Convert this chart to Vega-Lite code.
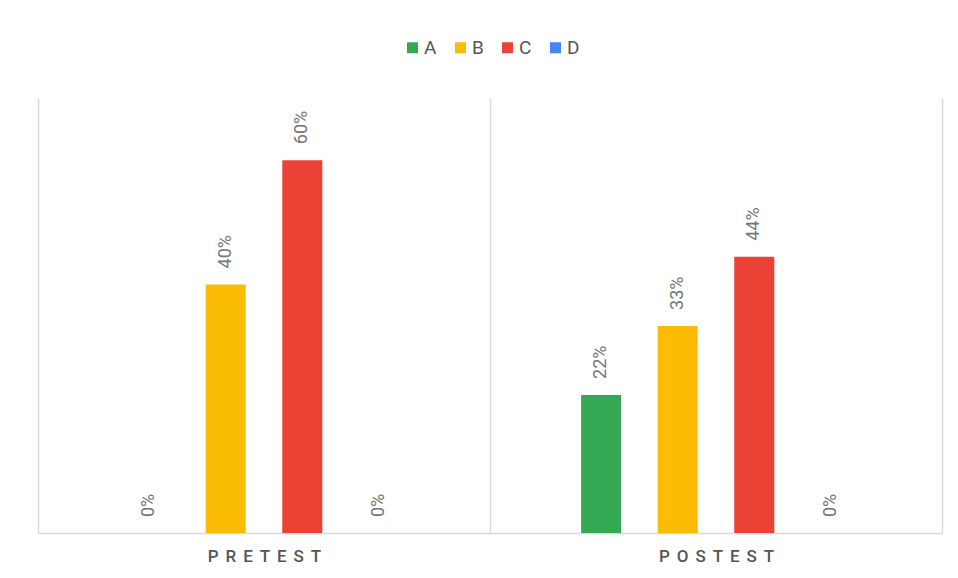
{
  "$schema": "https://vega.github.io/schema/vega-lite/v6.json",
  "autosize": {"type": "none"},
  "padding": {"left": 38, "top": 98, "right": 16, "bottom": 45},
  "width": 904,
  "height": 435,
  "background": "white",
  "config": {
    "view": {"stroke": null},
    "font": "Roboto"
  },
  "data": {
    "values": [
      {"test": "PRETEST", "answer": "A", "share": 0},
      {"test": "PRETEST", "answer": "B", "share": 0.4},
      {"test": "PRETEST", "answer": "C", "share": 0.6},
      {"test": "PRETEST", "answer": "D", "share": 0},
      {"test": "POSTEST", "answer": "A", "share": 0.2222},
      {"test": "POSTEST", "answer": "B", "share": 0.3333},
      {"test": "POSTEST", "answer": "C", "share": 0.4444},
      {"test": "POSTEST", "answer": "D", "share": 0}
    ]
  },
  "encoding": {
    "x": {
      "field": "test",
      "type": "nominal",
      "sort": ["PRETEST", "POSTEST"],
      "scale": {"paddingInner": 0, "paddingOuter": 0},
      "axis": {
        "title": null,
        "labelAngle": 0,
        "labelFont": "Roboto",
        "labelFontSize": 17,
        "labelFontWeight": 500,
        "labelColor": "#555555",
        "labelPadding": 15,
        "labelExpr": "join(split(datum.label, ''), '\u2009\u2009') + '\u2009\u2009\u2009\u2009'",
        "ticks": false,
        "tickBand": "extent",
        "grid": true,
        "gridColor": "#d9d9d9",
        "gridWidth": 1.5,
        "domain": true,
        "domainColor": "#d9d9d9",
        "domainWidth": 1.5
      }
    },
    "xOffset": {
      "field": "answer",
      "type": "nominal",
      "scale": {"domain": ["_l", "A", "B", "C", "D", "_r"], "paddingInner": 0.477, "paddingOuter": 0.19}
    },
    "y": {
      "field": "share",
      "type": "quantitative",
      "scale": {"domain": [0, 0.7], "nice": false},
      "axis": null
    }
  },
  "layer": [
    {
      "mark": {"type": "bar"},
      "encoding": {
        "color": {
          "field": "answer",
          "type": "nominal",
          "scale": {
            "domain": ["A", "B", "C", "D"],
            "range": ["#34A853", "#FBBC04", "#EA4335", "#4285F4"]
          },
          "legend": {
            "title": null,
            "orient": "none",
            "direction": "horizontal",
            "legendX": 365,
            "legendY": -60,
            "padding": 0,
            "symbolType": "square",
            "symbolSize": 121,
            "symbolStrokeWidth": 0,
            "symbolOffset": 0,
            "labelFont": "Roboto",
            "labelFontSize": 19,
            "labelColor": "#555555",
            "labelOffset": 2,
            "columnPadding": 14
          }
        }
      }
    },
    {
      "mark": {
        "type": "text",
        "angle": 270,
        "align": "left",
        "baseline": "middle",
        "dx": 16,
        "font": "Roboto",
        "fontSize": 18,
        "color": "#757575"
      },
      "encoding": {
        "text": {"field": "share", "type": "quantitative", "format": ".0%"}
      }
    }
  ]
}
